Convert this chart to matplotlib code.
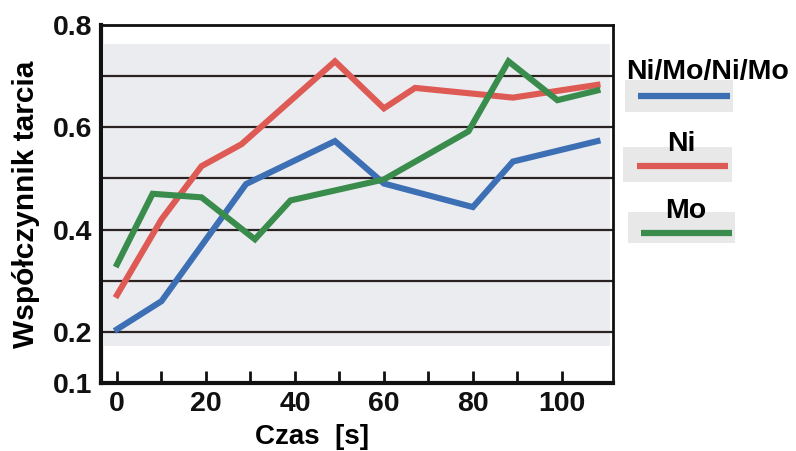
import matplotlib
matplotlib.use("Agg")
import matplotlib.pyplot as plt
from matplotlib.lines import Line2D
from matplotlib.patches import Rectangle

plt.rcParams['font.family'] = ['Liberation Sans', 'DejaVu Sans']
plt.rcParams['font.weight'] = 'bold'

# --- data ---
series_names = ["Ni/Mo/Ni/Mo", "Ni", "Mo"]
series_colors = ["#3d6fb4", "#de5a55", "#3a8c4c"]

t_nimo = [0, 10, 29, 49, 60, 80, 89, 108]
mu_nimo = [0.205, 0.26, 0.489, 0.573, 0.49, 0.444, 0.533, 0.573]

t_ni = [0, 10, 19, 28, 49, 60, 67, 89, 108]
mu_ni = [0.272, 0.42, 0.524, 0.567, 0.729, 0.637, 0.677, 0.658, 0.683]

t_mo = [0, 8, 19, 31, 39, 60, 79, 88, 99, 108]
mu_mo = [0.332, 0.47, 0.463, 0.381, 0.457, 0.498, 0.592, 0.729, 0.653, 0.672]

x_ticks = [0, 10, 20, 30, 40, 50, 60, 70, 80, 90, 100]
x_tick_labels = ["0", "", "20", "", "40", "", "60", "", "80", "", "100"]
y_ticks = [0.1, 0.2, 0.4, 0.6, 0.8]
y_tick_labels = ["0.1", "0.2", "0.4", "0.6", "0.8"]
y_grid = [0.2, 0.3, 0.4, 0.5, 0.6, 0.7]

xlabel = "Czas  [s]"
ylabel = "Współczynnik tarcia"

# --- figure ---
fig = plt.figure(figsize=(7.96, 4.51), dpi=100)
ax = fig.add_axes([101/796, 1 - 383/451, (613 - 101)/796, (383 - 25)/451])
ax.set_xlim(-3.6, 111.5)
ax.set_ylim(0.1, 0.8)

# grey plotting band
ax.axhspan(0.173, 0.763, xmin=0.006, xmax=0.994, color="#ebecf0", zorder=0, lw=0)

# gridlines
for g in y_grid:
    ax.axhline(g, color="#2b2222", lw=1.6, zorder=1)

data = [(t_nimo, mu_nimo), (t_ni, mu_ni), (t_mo, mu_mo)]
for (t, mu), c in zip(data, series_colors):
    ax.plot(t, mu, color=c, lw=4.4, zorder=3, solid_joinstyle='miter')

ax.set_xticks(x_ticks)
ax.set_xticklabels(x_tick_labels, fontsize=20.5, fontweight='bold')
ax.set_yticks(y_ticks)
ax.set_yticklabels(y_tick_labels, fontsize=20.5, fontweight='bold')
ax.tick_params(axis='x', direction='in', length=9, width=2, pad=6, colors='#111111')
ax.tick_params(axis='y', length=0, pad=6, colors='#111111')

for side in ['left', 'bottom']:
    ax.spines[side].set_linewidth(3)
for side in ['top', 'right']:
    ax.spines[side].set_linewidth(2)
for s in ax.spines.values():
    s.set_color('#111111')

fig.text(26/796, 1 - 204/451, ylabel, rotation=90, ha='center', va='center',
         fontsize=21.5, fontweight='bold')
fig.text(312/796, 1 - 437/451, xlabel, ha='center', va='center',
         fontsize=20, fontweight='bold')

# --- legend (manual layout) ---
W, H = 796, 451
legend_layout = [
    # text center (x,y), box (x0,y0,x1,y1), line y, line x0,x1
    ((708, 72), (625, 80, 733, 112), 96, 638, 730),
    ((681, 144), (623, 147, 732, 182), 166, 637, 728),
    ((686, 211), (628, 212, 735, 243), 233, 641, 732),
]
for name, c, (tc, box, ly, lx0, lx1) in zip(series_names, series_colors, legend_layout):
    x0, y0, x1, y1 = box
    fig.patches.append(Rectangle((x0/W, 1 - y1/H), (x1 - x0)/W, (y1 - y0)/H,
                                 transform=fig.transFigure, facecolor="#e8e8e8",
                                 edgecolor='none', zorder=1))
    fig.lines.append(Line2D([lx0/W, lx1/W], [1 - ly/H, 1 - ly/H], transform=fig.transFigure,
                            color=c, lw=4.5, zorder=2, solid_capstyle='butt'))
    fig.text(tc[0]/W, 1 - tc[1]/H, name, ha='center', va='center', fontsize=20.5,
             fontweight='bold', zorder=3)

fig.savefig("out.png", dpi=100)
